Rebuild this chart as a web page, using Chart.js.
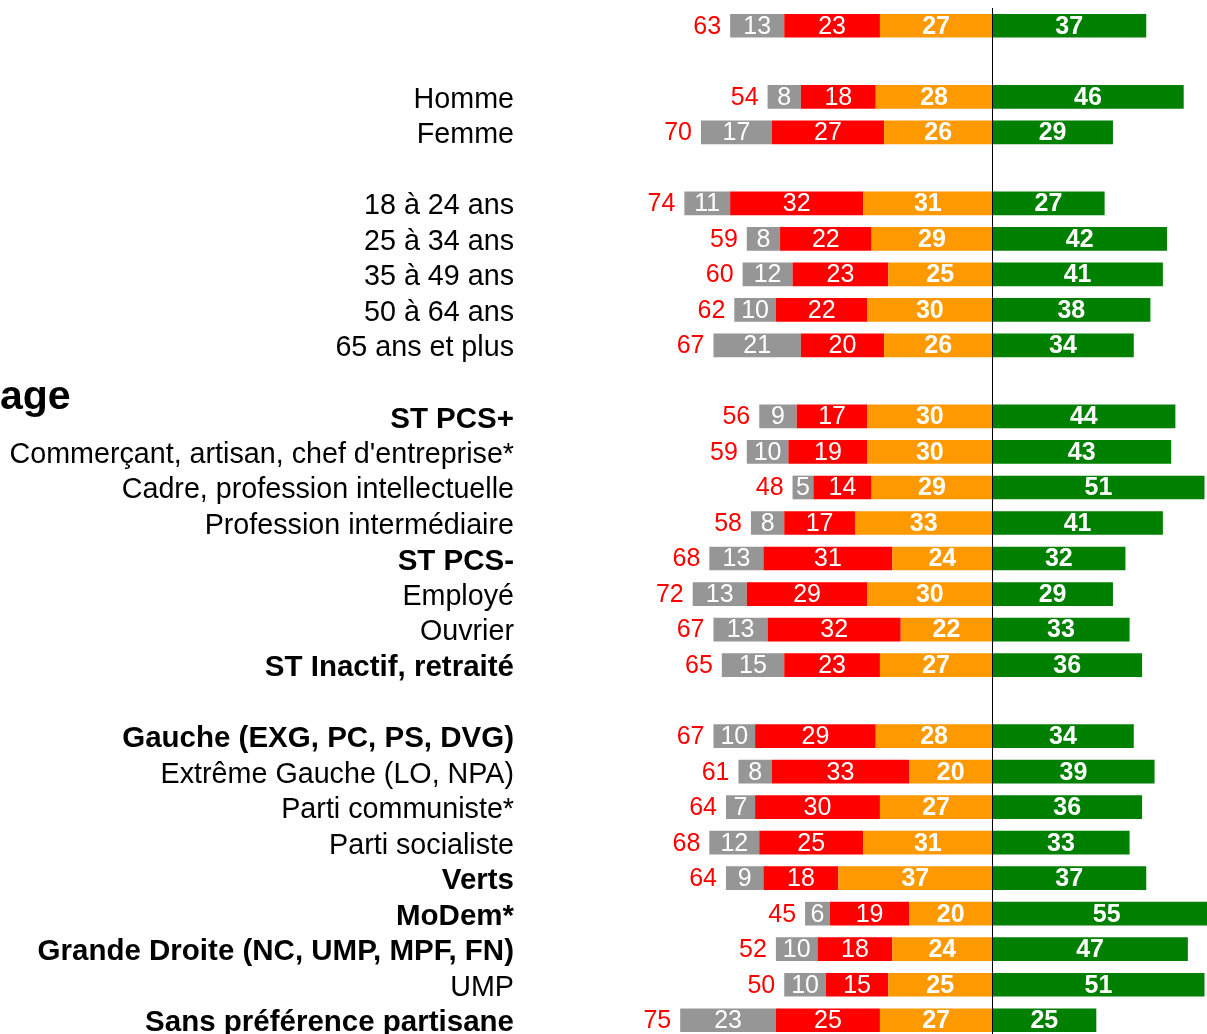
<!DOCTYPE html>
<html>
<head>
<meta charset="utf-8">
<script src="https://cdn.jsdelivr.net/npm/chart.js@4"></script>
<style>
  html, body { margin: 0; padding: 0; background: #fff; overflow: hidden; }
  #wrap { width: 1207px; height: 1034px; overflow: hidden; }
</style>
</head>
<body>
<div id="wrap"><canvas id="chart" width="1207" height="1040"></canvas></div>
<script>
const FONT = "'Liberation Sans', Arial, sans-serif";

const categories = ['', '', 'Homme', 'Femme', '', '18 à 24 ans', '25 à 34 ans', '35 à 49 ans',
  '50 à 64 ans', '65 ans et plus', '', 'ST PCS+', "Commerçant, artisan, chef d'entreprise*",
  'Cadre, profession intellectuelle', 'Profession intermédiaire', 'ST PCS-', 'Employé', 'Ouvrier',
  'ST Inactif, retraité', '', 'Gauche (EXG, PC, PS, DVG)', 'Extrême Gauche (LO, NPA)',
  'Parti communiste*', 'Parti socialiste', 'Verts', 'MoDem*', 'Grande Droite (NC, UMP, MPF, FN)',
  'UMP', 'Sans préférence partisane'];

const boldLabels = ['ST PCS+', 'ST PCS-', 'ST Inactif, retraité', 'Gauche (EXG, PC, PS, DVG)',
  'Verts', 'MoDem*', 'Grande Droite (NC, UMP, MPF, FN)', 'Sans préférence partisane'];

// left side (shown as positive numbers)
const greyVals   = [13, null, 8, 17, null, 11, 8, 12, 10, 21, null, 9, 10, 5, 8, 13, 13, 13, 15, null, 10, 8, 7, 12, 9, 6, 10, 10, 23];
const redVals    = [23, null, 18, 27, null, 32, 22, 23, 22, 20, null, 17, 19, 14, 17, 31, 29, 32, 23, null, 29, 33, 30, 25, 18, 19, 18, 15, 25];
const orangeVals = [27, null, 28, 26, null, 31, 29, 25, 30, 26, null, 30, 30, 29, 33, 24, 30, 22, 27, null, 28, 20, 27, 31, 37, 20, 24, 25, 27];
// right side
const greenVals  = [37, null, 46, 29, null, 27, 42, 41, 38, 34, null, 44, 43, 51, 41, 32, 29, 33, 36, null, 34, 39, 36, 33, 37, 55, 47, 51, 25];
// red totals printed left of the bars
const leftTotals = [63, null, 54, 70, null, 74, 59, 60, 62, 67, null, 56, 59, 48, 58, 68, 72, 67, 65, null, 67, 61, 64, 68, 64, 45, 52, 50, 75];

const sideText = 'age';

const neg = arr => arr.map(v => v == null ? null : -v);

const series = [
  { label: 'orange', data: neg(orangeVals), raw: orangeVals, color: '#FF9900', bold: true },
  { label: 'rouge',  data: neg(redVals),    raw: redVals,    color: '#FF0000', bold: false },
  { label: 'gris',   data: neg(greyVals),   raw: greyVals,   color: '#969696', bold: false },
  { label: 'vert',   data: greenVals,       raw: greenVals,  color: '#008000', bold: true }
];

const valueLabels = {
  id: 'valueLabels',
  afterDatasetsDraw(chart) {
    const ctx = chart.ctx;
    const xs = chart.scales.x;
    ctx.save();
    ctx.textBaseline = 'middle';
    ctx.textAlign = 'center';
    series.forEach((s, d) => {
      const meta = chart.getDatasetMeta(d);
      ctx.font = (s.bold ? 'bold ' : '') + '25px ' + FONT;
      ctx.fillStyle = '#fff';
      meta.data.forEach((bar, i) => {
        if (s.raw[i] == null) return;
        ctx.fillText(String(s.raw[i]), (bar.x + bar.base) / 2, bar.y + 1);
      });
    });
    // totals in red
    const meta = chart.getDatasetMeta(0);
    ctx.font = '25px ' + FONT;
    ctx.fillStyle = '#FF0000';
    ctx.textAlign = 'right';
    leftTotals.forEach((t, i) => {
      if (t == null) return;
      ctx.fillText(String(t), xs.getPixelForValue(-t) - 9, meta.data[i].y + 1);
    });
    // zero line
    const x0 = Math.round(xs.getPixelForValue(0)) + 0.5;
    ctx.strokeStyle = '#000';
    ctx.lineWidth = 1;
    ctx.beginPath();
    ctx.moveTo(x0, chart.chartArea.top);
    ctx.lineTo(x0, chart.chartArea.bottom);
    ctx.stroke();
    // cut-off heading on the left
    ctx.font = 'bold 41px ' + FONT;
    ctx.fillStyle = '#000';
    ctx.textAlign = 'left';
    ctx.textBaseline = 'alphabetic';
    ctx.fillText(sideText, 0, 409);
    ctx.restore();
  }
};

new Chart(document.getElementById('chart'), {
  type: 'bar',
  data: {
    labels: categories,
    datasets: series.map(s => ({
      label: s.label,
      data: s.data,
      backgroundColor: s.color,
      borderWidth: 0,
      categoryPercentage: 1,
      barPercentage: 0.667
    }))
  },
  options: {
    indexAxis: 'y',
    responsive: false,
    animation: false,
    layout: { padding: { top: 8, bottom: 2, left: 0, right: 0 } },
    plugins: { legend: { display: false }, tooltip: { enabled: false } },
    scales: {
      x: {
        stacked: true,
        min: -113.5,
        max: 51.6,
        display: false
      },
      y: {
        stacked: true,
        grid: { display: false, drawTicks: false },
        border: { display: false },
        afterFit: scale => {
          scale.width = 520;
          scale.paddingTop = 0;
          scale.paddingBottom = 0;
        },
        ticks: {
          autoSkip: false,
          padding: 6,
          labelOffset: 3,
          color: '#000',
          font: c => {
            const b = boldLabels.includes(categories[c.index]);
            return { family: FONT, size: b ? 29.5 : 28.7, weight: b ? 'bold' : 'normal' };
          }
        }
      }
    }
  },
  plugins: [valueLabels]
});
</script>
</body>
</html>
